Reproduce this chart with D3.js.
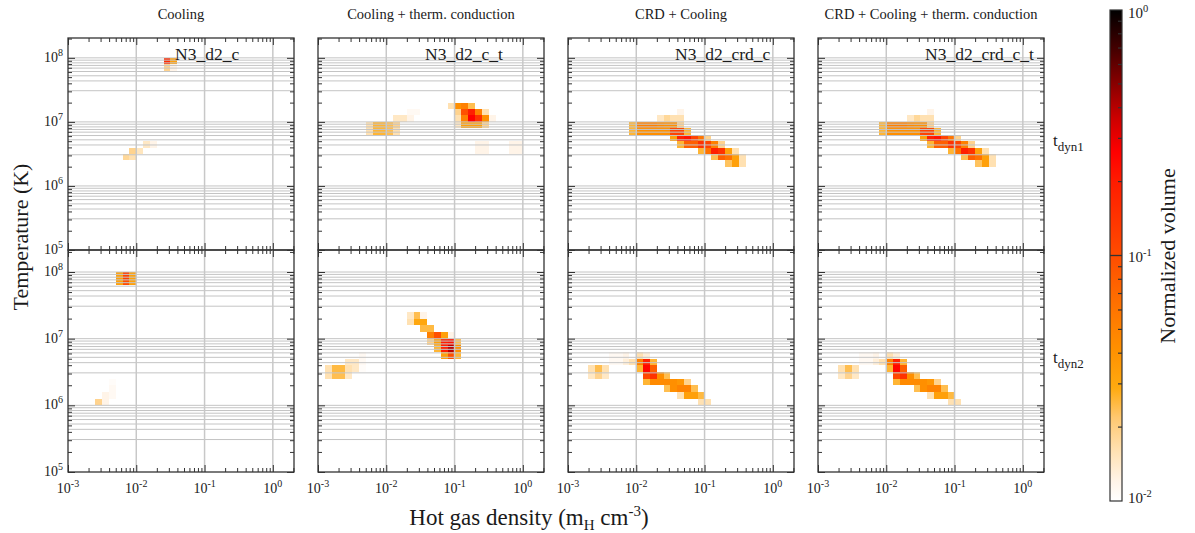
<!DOCTYPE html>
<html lang="en">
<head>
  <meta charset="UTF-8">
  <title>Hot gas phase diagrams</title>
  <script src="https://d3js.org/d3.v7.min.js"></script>
  <style>
    body { margin: 0; background: #fff; }
    svg text { font-family: "Liberation Serif", "DejaVu Serif", serif; fill: #1a1a1a; }
  </style>
</head>
<body>
  <div id="chart"></div>

  <script>
    // Column titles, run names and row labels
    var panelTitles = ["Cooling", "Cooling + therm. conduction", "CRD + Cooling", "CRD + Cooling + therm. conduction"];
    var runNames = ["N3_d2_c", "N3_d2_c_t", "N3_d2_crd_c", "N3_d2_crd_c_t"];
    var rowNames = ["dyn1", "dyn2"];

    // tick labels (powers of ten)
    var xTickExp = [-3, -2, -1, 0];
    var yTickExp = [5, 6, 7, 8];
    var cbarTickExp = [-2, -1, 0];

    // histogram cells: [log10 density bin start, log10 T bin start, normalized volume]
    var binSize = 0.1;

    var topCool = [
      [-1.6, 7.9, 0.16], [-1.5, 7.9, 0.033], [-1.6, 7.8, 0.019], [-1.5, 7.8, 0.012],
      [-2.2, 6.4, 0.018], [-2.1, 6.4, 0.016], [-2.1, 6.5, 0.019], [-2.0, 6.5, 0.015],
      [-1.9, 6.6, 0.0145], [-1.8, 6.6, 0.012]
    ];
    var topCoolCond = [
      [-1.1, 7.2, 0.016], [-1.0, 7.2, 0.042], [-0.9, 7.2, 0.052], [-0.8, 7.2, 0.024],
      [-1.7, 7.1, 0.011], [-1.6, 7.1, 0.011], [-1.0, 7.1, 0.019], [-0.9, 7.1, 0.095],
      [-0.8, 7.1, 0.19], [-0.7, 7.1, 0.052], [-0.6, 7.1, 0.016],
      [-1.9, 7.0, 0.0145], [-1.8, 7.0, 0.0145], [-1.7, 7.0, 0.012], [-1.0, 7.0, 0.016],
      [-0.9, 7.0, 0.052], [-0.8, 7.0, 0.26], [-0.7, 7.0, 0.145], [-0.6, 7.0, 0.042], [-0.5, 7.0, 0.012],
      [-2.3, 6.9, 0.016], [-2.2, 6.9, 0.026], [-2.1, 6.9, 0.026], [-2.0, 6.9, 0.024], [-1.9, 6.9, 0.019],
      [-1.0, 6.9, 0.0145], [-0.9, 6.9, 0.033], [-0.8, 6.9, 0.033], [-0.7, 6.9, 0.033], [-0.6, 6.9, 0.019],
      [-2.3, 6.8, 0.016], [-2.2, 6.8, 0.026], [-2.1, 6.8, 0.026], [-2.0, 6.8, 0.024], [-1.9, 6.8, 0.016],
      [-0.7, 6.6, 0.012], [-0.6, 6.6, 0.012], [-0.7, 6.5, 0.012], [-0.6, 6.5, 0.012],
      [-0.2, 6.6, 0.012], [-0.1, 6.6, 0.012], [-0.2, 6.5, 0.012], [-0.1, 6.5, 0.012]
    ];
    var topCrdCool = [
      [-1.4, 7.1, 0.012],
      [-1.7, 7.0, 0.0145], [-1.6, 7.0, 0.018], [-1.5, 7.0, 0.016], [-1.4, 7.0, 0.016],
      [-2.1, 6.9, 0.026], [-2.0, 6.9, 0.052], [-1.9, 6.9, 0.052], [-1.8, 6.9, 0.052],
      [-1.7, 6.9, 0.045], [-1.6, 6.9, 0.042], [-1.5, 6.9, 0.042], [-1.4, 6.9, 0.019],
      [-2.1, 6.8, 0.026], [-2.0, 6.8, 0.042], [-1.9, 6.8, 0.042], [-1.8, 6.8, 0.042],
      [-1.7, 6.8, 0.042], [-1.6, 6.8, 0.042], [-1.5, 6.8, 0.115], [-1.4, 6.8, 0.115], [-1.3, 6.8, 0.026],
      [-1.5, 6.7, 0.033], [-1.4, 6.7, 0.19], [-1.3, 6.7, 0.22], [-1.2, 6.7, 0.115], [-1.1, 6.7, 0.06], [-1.0, 6.7, 0.019],
      [-1.4, 6.6, 0.026], [-1.3, 6.6, 0.079], [-1.2, 6.6, 0.079], [-1.1, 6.6, 0.145],
      [-1.0, 6.6, 0.115], [-0.9, 6.6, 0.052], [-0.8, 6.6, 0.019],
      [-1.1, 6.5, 0.026], [-1.0, 6.5, 0.063], [-0.9, 6.5, 0.19], [-0.8, 6.5, 0.145], [-0.7, 6.5, 0.033], [-0.6, 6.5, 0.016],
      [-0.9, 6.4, 0.024], [-0.8, 6.4, 0.079], [-0.7, 6.4, 0.063], [-0.6, 6.4, 0.033], [-0.5, 6.4, 0.016],
      [-0.7, 6.3, 0.023], [-0.6, 6.3, 0.033], [-0.5, 6.3, 0.016]
    ];
    // looks the same as the CRD + cooling run at this time
    var topCrdCoolCond = topCrdCool;

    var botCool = [
      [-2.3, 7.9, 0.033], [-2.2, 7.9, 0.12], [-2.1, 7.9, 0.033],
      [-2.3, 7.8, 0.033], [-2.2, 7.8, 0.1], [-2.1, 7.8, 0.033],
      [-2.6, 6.0, 0.019], [-2.5, 6.0, 0.012], [-2.5, 6.1, 0.012],
      [-2.4, 6.1, 0.011], [-2.4, 6.2, 0.011], [-2.4, 6.3, 0.0105]
    ];
    var botCoolCond = [
      [-1.7, 7.3, 0.0145], [-1.6, 7.3, 0.024], [-1.5, 7.3, 0.012],
      [-1.7, 7.2, 0.016], [-1.6, 7.2, 0.03], [-1.5, 7.2, 0.03],
      [-1.5, 7.1, 0.025], [-1.4, 7.1, 0.025],
      [-1.4, 7.0, 0.052], [-1.3, 7.0, 0.095], [-1.2, 7.0, 0.033], [-1.1, 7.0, 0.012],
      [-1.4, 6.9, 0.019], [-1.3, 6.9, 0.033], [-1.2, 6.9, 0.19], [-1.1, 6.9, 0.22], [-1.0, 6.9, 0.024],
      [-1.3, 6.8, 0.026], [-1.2, 6.8, 0.19], [-1.1, 6.8, 0.4], [-1.0, 6.8, 0.042],
      [-1.2, 6.7, 0.033], [-1.1, 6.7, 0.095], [-1.0, 6.7, 0.026],
      [-2.4, 6.7, 0.011],
      [-2.6, 6.6, 0.0145], [-2.5, 6.6, 0.0145], [-2.4, 6.6, 0.011],
      [-2.9, 6.5, 0.016], [-2.8, 6.5, 0.025], [-2.7, 6.5, 0.025], [-2.6, 6.5, 0.016], [-2.5, 6.5, 0.0145], [-2.4, 6.5, 0.0105],
      [-2.9, 6.4, 0.016], [-2.8, 6.4, 0.024], [-2.7, 6.4, 0.024], [-2.6, 6.4, 0.0145]
    ];
    var botCrdCool = [
      [-2.4, 6.7, 0.011], [-2.3, 6.7, 0.011], [-2.2, 6.7, 0.012], [-2.0, 6.7, 0.016], [-1.9, 6.7, 0.013],
      [-2.4, 6.6, 0.011], [-2.3, 6.6, 0.011], [-2.2, 6.6, 0.013], [-2.1, 6.6, 0.016],
      [-2.0, 6.6, 0.052], [-1.9, 6.6, 0.19], [-1.8, 6.6, 0.026],
      [-2.7, 6.5, 0.016], [-2.6, 6.5, 0.024], [-2.5, 6.5, 0.016],
      [-2.0, 6.5, 0.026], [-1.9, 6.5, 0.25], [-1.8, 6.5, 0.079],
      [-2.7, 6.4, 0.0145], [-2.6, 6.4, 0.019], [-2.5, 6.4, 0.0145],
      [-1.9, 6.4, 0.11], [-1.8, 6.4, 0.145], [-1.7, 6.4, 0.042], [-1.6, 6.4, 0.024],
      [-1.9, 6.3, 0.026], [-1.8, 6.3, 0.045], [-1.7, 6.3, 0.045], [-1.6, 6.3, 0.045],
      [-1.5, 6.3, 0.042], [-1.4, 6.3, 0.038], [-1.3, 6.3, 0.019],
      [-1.6, 6.2, 0.024], [-1.5, 6.2, 0.042], [-1.4, 6.2, 0.05], [-1.3, 6.2, 0.05], [-1.2, 6.2, 0.024],
      [-1.4, 6.1, 0.016], [-1.3, 6.1, 0.033], [-1.2, 6.1, 0.033], [-1.1, 6.1, 0.025],
      [-1.1, 6.0, 0.016], [-1.0, 6.0, 0.016]
    ];
    var botCrdCoolCond = botCrdCool;

    var panelData = [
      [topCool, topCoolCond, topCrdCool, topCrdCoolCond],
      [botCool, botCoolCond, botCrdCool, botCrdCoolCond]
    ];

    // white -> orange -> red -> black colour table
    var cmapPos = [0, 0.04, 0.10, 0.17, 0.23, 0.31, 0.41, 0.49, 0.55, 0.65, 0.71, 0.78, 0.85, 0.92, 1];
    var cmapColors = ["#ffffff", "#fff4e8", "#ffe2b4", "#ffc870", "#ffaa10", "#ff9000", "#ff6e00",
                      "#ff5000", "#ff3c00", "#ff1c00", "#ff0000", "#cc0000", "#880000", "#450000", "#000000"];

    var tScale = d3.scaleLog().domain([0.01, 1]).range([0, 1]).clamp(true);
    var cmap = d3.scaleLinear().domain(cmapPos).range(cmapColors).interpolate(d3.interpolateRgb);
    function color(v) { return cmap(tScale(v)); }

    var width = 1195, height = 533;
    var svg = d3.select("#chart").append("svg")
      .attr("width", width)
      .attr("height", height);

    var panelLeft = [68, 318, 568, 818], panelW = 226;
    var rows = [
      { top: 38, bottom: 250, maxExp: 8.31 },
      { top: 250, bottom: 472, maxExp: 8.33 }
    ];
    var frameColor = "#333";
    // grid lines sit at these offsets (in decades) below each power of ten
    var gridOffsets = [0, 0.036, 0.078, 0.118, 0.16, 0.213, 0.28, 0.36, 0.513];

    function sup(textSel, base, exp, size, supSize, rise) {
      textSel.append("tspan").text(base).attr("font-size", size);
      textSel.append("tspan").text(exp).attr("font-size", supSize).attr("dy", -rise);
    }

    function tickAxis(g, axisFn, scale, values, size, transform) {
      g.append("g")
        .attr("transform", transform)
        .attr("color", frameColor)
        .call(axisFn(scale).tickValues(values).tickSize(size).tickFormat(""))
        .call(function(a) { a.select(".domain").remove(); });
    }

    rows.forEach(function(row, r) {
      var y = d3.scaleLog().domain([1e5, Math.pow(10, row.maxExp)]).range([row.bottom, row.top]);
      var yAll = y.ticks();
      var yMajor = yAll.filter(function(v) { return Math.abs(Math.log10(v) - Math.round(Math.log10(v))) < 1e-9; });
      var yMinor = yAll.filter(function(v) { return yMajor.indexOf(v) < 0; });

      var gridVals = [];
      for (var n = 5; n <= 9; n++) {
        gridOffsets.forEach(function(f) {
          var v = Math.pow(10, n - f);
          if (v > 1e5 * 1.001 && v < y.domain()[1]) gridVals.push(v);
        });
      }

      panelLeft.forEach(function(L, c) {
        var x = d3.scaleLog().domain([1e-3, Math.pow(10, 0.31)]).range([L, L + panelW]);
        var xAll = x.ticks();
        var xMajor = xAll.filter(function(v) { return Math.abs(Math.log10(v) - Math.round(Math.log10(v))) < 1e-9; });
        var xMinor = xAll.filter(function(v) { return xMajor.indexOf(v) < 0; });

        var g = svg.append("g");

        // histogram cells
        g.selectAll("rect.cell")
          .data(panelData[r][c])
          .join("rect")
          .attr("class", "cell")
          .attr("x", function(d) { return x(Math.pow(10, d[0])); })
          .attr("width", function(d) { return x(Math.pow(10, d[0] + binSize)) - x(Math.pow(10, d[0])); })
          .attr("y", function(d) { return y(Math.pow(10, d[1] + binSize)); })
          .attr("height", function(d) { return y(Math.pow(10, d[1])) - y(Math.pow(10, d[1] + binSize)); })
          .attr("fill", function(d) { return color(d[2]); })
          .attr("shape-rendering", "crispEdges");

        // grid on top of the cells
        g.selectAll("line.hgrid")
          .data(gridVals)
          .join("line")
          .attr("class", "hgrid")
          .attr("x1", L).attr("x2", L + panelW)
          .attr("y1", function(d) { return y(d); })
          .attr("y2", function(d) { return y(d); })
          .attr("stroke", "#c4c4c4")
          .attr("stroke-width", 1);

        g.selectAll("line.vgrid")
          .data(xMajor.filter(function(v) { return v > 1e-3 * 1.001; }))
          .join("line")
          .attr("class", "vgrid")
          .attr("y1", row.top).attr("y2", row.bottom)
          .attr("x1", function(d) { return x(d); })
          .attr("x2", function(d) { return x(d); })
          .attr("stroke", "#c8c8c8")
          .attr("stroke-width", 1.5);

        // inward ticks on all four sides
        tickAxis(g, d3.axisBottom, x, xMajor, -7, "translate(0," + row.bottom + ")");
        tickAxis(g, d3.axisBottom, x, xMinor, -4, "translate(0," + row.bottom + ")");
        tickAxis(g, d3.axisTop, x, xMajor, -7, "translate(0," + row.top + ")");
        tickAxis(g, d3.axisTop, x, xMinor, -4, "translate(0," + row.top + ")");
        tickAxis(g, d3.axisLeft, y, yMajor, -7, "translate(" + L + ",0)");
        tickAxis(g, d3.axisLeft, y, yMinor, -4, "translate(" + L + ",0)");
        tickAxis(g, d3.axisRight, y, yMajor, -7, "translate(" + (L + panelW) + ",0)");
        tickAxis(g, d3.axisRight, y, yMinor, -4, "translate(" + (L + panelW) + ",0)");

        g.append("rect")
          .attr("x", L).attr("y", row.top)
          .attr("width", panelW).attr("height", row.bottom - row.top)
          .attr("fill", "none")
          .attr("stroke", frameColor)
          .attr("stroke-width", 1.3);

        if (r === 0) {
          svg.append("text")
            .attr("x", L + panelW / 2).attr("y", 19)
            .attr("text-anchor", "middle")
            .attr("font-size", 14.5)
            .text(panelTitles[c]);
          svg.append("text")
            .attr("x", L + 107).attr("y", 60)
            .attr("font-size", 17.5)
            .text(runNames[c]);
        }

        if (r === 1) {
          xTickExp.forEach(function(e) {
            var t = svg.append("text")
              .attr("x", x(Math.pow(10, e))).attr("y", 493)
              .attr("text-anchor", "middle");
            sup(t, "10", String(e), 14, 10, 6);
          });
        }

        if (c === 0) {
          yTickExp.forEach(function(e) {
            var t = svg.append("text")
              .attr("x", 63).attr("y", y(Math.pow(10, e)) + 4)
              .attr("text-anchor", "end");
            sup(t, "10", String(e), 14, 10, 6);
          });
        }
      });

      // row label on the right
      var lab = svg.append("text")
        .attr("x", 1053).attr("y", (row.top + row.bottom) / 2 + 2);
      lab.append("tspan").text("t").attr("font-size", 17);
      lab.append("tspan").text(rowNames[r]).attr("font-size", 13).attr("dy", 5);
    });

    // axis titles
    svg.append("text")
      .attr("transform", "translate(28,237) rotate(-90)")
      .attr("text-anchor", "middle")
      .attr("font-size", 22)
      .text("Temperature (K)");

    var xt = svg.append("text")
      .attr("x", 529).attr("y", 525)
      .attr("text-anchor", "middle")
      .attr("font-size", 23);
    xt.append("tspan").text("Hot gas density (m");
    xt.append("tspan").text("H").attr("font-size", 15).attr("dy", 5);
    xt.append("tspan").text(" cm").attr("dy", -5);
    xt.append("tspan").text("-3").attr("font-size", 15).attr("dy", -9);
    xt.append("tspan").text(")").attr("dy", 9);

    // colour bar
    var cbX = 1110, cbW = 12;
    var cb = d3.scaleLog().domain([0.01, 1]).range([501, 10]);

    var grad = svg.append("defs").append("linearGradient")
      .attr("id", "cbarGrad")
      .attr("x1", 0).attr("y1", 1).attr("x2", 0).attr("y2", 0);
    grad.selectAll("stop")
      .data(cmapPos)
      .join("stop")
      .attr("offset", function(d) { return d; })
      .attr("stop-color", function(d, i) { return cmapColors[i]; });

    svg.append("rect")
      .attr("x", cbX).attr("y", cb(1))
      .attr("width", cbW).attr("height", cb(0.01) - cb(1))
      .attr("fill", "url(#cbarGrad)")
      .attr("stroke", frameColor)
      .attr("stroke-width", 1.2);

    var cbAll = cb.ticks();
    var cbMinor = cbAll.filter(function(v) { return Math.abs(Math.log10(v) - Math.round(Math.log10(v))) > 1e-9; });
    svg.selectAll("line.cbminor")
      .data(cbMinor)
      .join("line")
      .attr("class", "cbminor")
      .attr("x1", cbX + cbW - 4).attr("x2", cbX + cbW)
      .attr("y1", function(d) { return cb(d); })
      .attr("y2", function(d) { return cb(d); })
      .attr("stroke", frameColor)
      .attr("stroke-width", 1.2);

    svg.append("line")
      .attr("x1", cbX).attr("x2", cbX + cbW)
      .attr("y1", cb(0.1)).attr("y2", cb(0.1))
      .attr("stroke", frameColor)
      .attr("stroke-width", 1.3);

    cbarTickExp.forEach(function(e) {
      var yy = Math.min(Math.max(cb(Math.pow(10, e)) + 6, 18), 503);
      var t = svg.append("text").attr("x", 1128).attr("y", yy);
      sup(t, "10", String(e), 15, 10.5, 6);
    });

    svg.append("text")
      .attr("transform", "translate(1175,256) rotate(-90)")
      .attr("text-anchor", "middle")
      .attr("font-size", 22)
      .text("Normalized volume");
  </script>
</body>
</html>
